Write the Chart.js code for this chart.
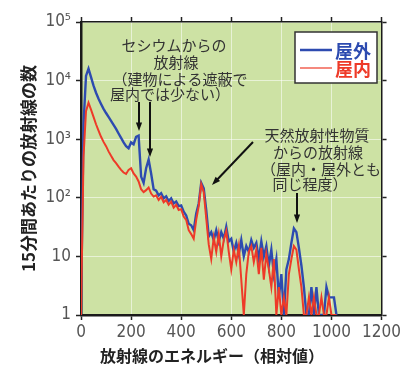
<!DOCTYPE html>
<html lang="ja">
<head>
<meta charset="UTF-8">
<title>放射線のエネルギー分布</title>
<style>
  html, body { margin: 0; padding: 0; background: #fff; }
  #wrap { width: 403px; height: 365px; }
</style>
<script src="https://cdn.jsdelivr.net/npm/chart.js"></script>
</head>
<body>
<div id="wrap"><canvas id="spectrum" width="403" height="365"></canvas></div>
<script>
// エネルギー（相対値）
const energy = [
  0, 10, 20, 30, 40, 50, 60, 70, 80, 90,
  100, 110, 120, 130, 140, 150, 160, 170, 180, 190,
  200, 210, 220, 230, 240, 250, 260, 270, 280, 290,
  300, 310, 320, 330, 340, 350, 360, 370, 380, 390,
  400, 410, 420, 430, 440, 450, 460, 470, 480, 490,
  500, 510, 520, 530, 540, 550, 560, 570, 580, 590,
  600, 610, 620, 630, 640, 650, 660, 670, 680, 690,
  700, 710, 720, 730, 740, 750, 760, 770, 780, 790,
  800, 810, 820, 830, 840, 850, 860, 870, 880, 890,
  900, 910, 920, 930, 940, 950, 960, 970, 980, 990,
  1000, 1010, 1020
];

// 屋外
const outdoor = [
  1, 1800, 12000, 16000, 11500, 8200, 6200, 4900, 4000, 3300,
  2800, 2400, 2050, 1750, 1500, 1250, 1050, 880, 760, 700,
  880, 820, 1100, 1150, 230, 180, 320, 450, 260, 140,
  132, 110, 120, 98, 106, 88, 98, 80, 86, 72,
  74, 58, 50, 36, 34, 28, 54, 80, 180, 145,
  62, 22, 26, 19, 28, 18, 26, 20, 32, 18,
  20, 12, 17, 11, 19, 10, 15, 12, 19, 14,
  17, 9, 18, 10, 15, 7, 13, 5, 9, 2,
  5, 1, 6, 9, 17, 30, 26, 14, 7, 3,
  1, 1, 3, 1, 3, 1, 1, 1, 3, 2,
  2, 2, 1
];

// 屋内
const indoor = [
  1, 500, 3000, 4200, 3200, 2400, 1800, 1400, 1100, 900,
  760, 620, 520, 440, 390, 340, 300, 270, 255, 300,
  320, 260, 230, 190, 140, 125, 135, 150, 118, 105,
  110, 92, 104, 84, 92, 76, 86, 68, 76, 62,
  64, 48, 42, 28, 24, 20, 42, 72, 170, 125,
  45, 16, 9, 21, 12, 24, 10, 19, 27, 12,
  6, 13, 8, 15, 4, 1, 5, 12, 15, 8,
  13, 5, 14, 4, 11, 6, 3, 9, 1, 3,
  1, 2, 1, 5, 9, 15, 13, 6, 3, 1,
  1, 2, 1, 2, 1, 1, 2, 1, 1, 2,
  1, 1, 1
];

const xTickValues = [0, 200, 400, 600, 800, 1000, 1200];
const yTickValues = [1, 10, 100, 1000, 10000, 100000];
const yTickLabels = ['1', '10', '10²', '10³', '10⁴', '10⁵'];

const cesiumNote = ['セシウムからの', '放射線', '（建物による遮蔽で', '屋内では少ない）'];
const naturalNote = ['天然放射性物質', 'からの放射線', '（屋内・屋外とも', '同じ程度）'];
const xTitle = '放射線のエネルギー（相対値）';
const yTitle = '15分間あたりの放射線の数';

const blue = '#2d4bb0';
const red = '#ee3a28';
const jpFont = "'Noto Sans CJK JP', sans-serif";
const numFont = "'Liberation Sans Narrow', 'DejaVu Sans Condensed', sans-serif";

function arrow(c, x1, y1, x2, y2) {
  const a = Math.atan2(y2 - y1, x2 - x1), h = 9;
  c.beginPath();
  c.moveTo(x1, y1);
  c.lineTo(x2 - Math.cos(a) * h * 0.7, y2 - Math.sin(a) * h * 0.7);
  c.stroke();
  c.beginPath();
  c.moveTo(x2, y2);
  c.lineTo(x2 - h * Math.cos(a - 0.35), y2 - h * Math.sin(a - 0.35));
  c.lineTo(x2 - h * Math.cos(a + 0.35), y2 - h * Math.sin(a + 0.35));
  c.closePath();
  c.fill();
}

const decor = {
  id: 'decor',
  beforeDraw(chart) {
    const { ctx, chartArea: a } = chart;
    ctx.save();
    ctx.fillStyle = '#cde2a4';
    ctx.fillRect(a.left, a.top, a.right - a.left, a.bottom - a.top);
    ctx.restore();
  },
  afterDraw(chart) {
    const c = chart.ctx;
    c.save();
    // 注記
    c.fillStyle = '#333';
    c.font = '15px ' + jpFont;
    c.textAlign = 'center';
    c.textBaseline = 'middle';
    const cx = [174, 176, 180, 170], cy = [45, 62, 79, 94];
    cesiumNote.forEach((t, i) => c.fillText(t, cx[i], cy[i]));
    const nx = [317, 318, 321, 310], ny = [135, 152, 169, 184];
    naturalNote.forEach((t, i) => c.fillText(t, nx[i], ny[i]));

    // 矢印
    c.strokeStyle = '#111';
    c.fillStyle = '#111';
    c.lineWidth = 2;
    arrow(c, 139, 102, 139, 131);
    arrow(c, 150, 102, 150, 157);
    arrow(c, 253, 142, 212, 185);
    arrow(c, 297, 193, 297, 223);

    // 凡例
    c.fillStyle = '#fff';
    c.fillRect(295, 32, 82, 51);
    c.strokeStyle = '#333';
    c.lineWidth = 1.5;
    c.strokeRect(295, 32, 82, 51);
    const ds = chart.data.datasets;
    c.font = 'bold 18px ' + jpFont;
    c.textAlign = 'left';
    [[50, 2.5], [68, 1.2]].forEach(([y, w], i) => {
      c.strokeStyle = ds[i].borderColor;
      c.lineWidth = w;
      c.beginPath();
      c.moveTo(300, y);
      c.lineTo(332, y);
      c.stroke();
      c.fillStyle = ds[i].borderColor;
      c.fillText(ds[i].label, 335, y + 1);
    });

    // x軸タイトル
    c.fillStyle = '#222';
    c.font = 'bold 16px ' + jpFont;
    c.textAlign = 'center';
    c.fillText(xTitle, 212, 356);
    c.restore();
  }
};

const decades = (scale) => {
  scale.ticks = yTickValues.map(v => ({ value: v }));
};
const hundreds = (scale) => {
  scale.ticks = xTickValues.map(v => ({ value: v }));
};

new Chart(document.getElementById('spectrum'), {
  type: 'line',
  data: {
    datasets: [
      {
        label: '屋外',
        data: energy.map((e, i) => ({ x: e, y: outdoor[i] })),
        borderColor: blue,
        borderWidth: 2.4,
        pointRadius: 0,
        tension: 0,
        order: 1
      },
      {
        label: '屋内',
        data: energy.map((e, i) => ({ x: e, y: indoor[i] })),
        borderColor: red,
        borderWidth: 2,
        pointRadius: 0,
        tension: 0,
        order: 0
      }
    ]
  },
  options: {
    responsive: false,
    animation: false,
    layout: { padding: 0 },
    plugins: { legend: { display: false }, tooltip: { enabled: false } },
    scales: {
      x: {
        type: 'linear',
        position: 'bottom',
        min: 0,
        max: 1200,
        afterBuildTicks: hundreds,
        ticks: {
          color: '#555',
          font: { family: numFont, size: 17 },
          padding: 2,
          maxRotation: 0,
          callback: v => String(v)
        },
        grid: { color: 'rgba(255,255,255,0.55)', tickColor: '#222', tickLength: 5, tickWidth: 1.5 },
        border: { color: '#1a1a1a', width: 2.5 },
        afterFit: s => { s.height = 50; }
      },
      x2: {
        type: 'linear',
        position: 'top',
        min: 0,
        max: 1200,
        afterBuildTicks: hundreds,
        ticks: { display: false },
        grid: { drawOnChartArea: false, tickColor: '#222', tickLength: 5, tickWidth: 1.5 },
        border: { color: '#1a1a1a', width: 1.5 },
        afterFit: s => { s.height = 22; }
      },
      y: {
        type: 'logarithmic',
        position: 'left',
        min: 1,
        max: 100000,
        afterBuildTicks: decades,
        ticks: {
          color: '#555',
          font: { family: numFont, size: 17 },
          padding: 5,
          callback: v => yTickLabels[yTickValues.indexOf(v)]
        },
        grid: { color: 'rgba(255,255,255,0.55)', tickColor: '#222', tickLength: 5, tickWidth: 1.5 },
        border: { color: '#1a1a1a', width: 2.5 },
        title: {
          display: true,
          text: yTitle,
          color: '#222',
          font: { family: jpFont, size: 17, weight: 'bold' },
          padding: { top: 18, bottom: 0 }
        },
        afterFit: s => { s.width = 81; }
      },
      y2: {
        type: 'logarithmic',
        position: 'right',
        min: 1,
        max: 100000,
        afterBuildTicks: decades,
        ticks: { display: false },
        grid: { drawOnChartArea: false, tickColor: '#222', tickLength: 5, tickWidth: 1.5 },
        border: { color: '#1a1a1a', width: 1.5 },
        afterFit: s => { s.width = 18; }
      }
    }
  },
  plugins: [decor]
});
</script>
</body>
</html>
